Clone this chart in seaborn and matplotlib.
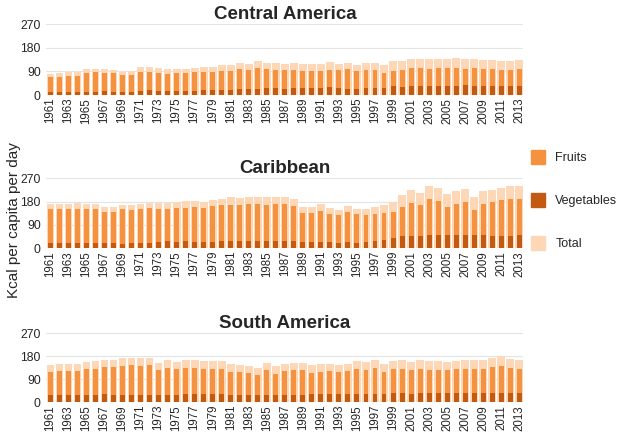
import matplotlib
matplotlib.use("Agg")
import matplotlib.pyplot as plt
from matplotlib.patches import Patch
import seaborn as sns

years = [str(y) for y in range(1961, 2014)]

regions = ["Central America", "Caribbean", "South America"]

central_fruits = [68, 70, 74, 73, 85, 86, 84, 83, 75, 78,
                  89, 88, 85, 82, 84, 85, 86, 88, 86, 91,
                  93, 101, 96, 103, 99, 97, 94, 97, 92, 92,
                  90, 96, 94, 99, 92, 95, 96, 85, 93, 97,
                  103, 103, 101, 103, 102, 104, 101, 102, 99, 98,
                  96, 96, 100]
central_veg = [12, 12, 13, 12, 13, 13, 14, 13, 12, 13,
               16, 18, 17, 17, 15, 15, 16, 18, 19, 21,
               20, 22, 23, 24, 25, 26, 24, 25, 26, 27,
               28, 29, 25, 22, 22, 25, 25, 28, 34, 32,
               35, 35, 36, 35, 36, 36, 37, 36, 34, 34,
               33, 34, 34]
central_total = [82, 84, 87, 86, 98, 99, 98, 97, 88, 92,
                 106, 106, 103, 100, 100, 100, 103, 107, 106, 113,
                 114, 124, 120, 128, 124, 124, 118, 122, 118, 119,
                 118, 125, 119, 122, 115, 121, 122, 114, 128, 130,
                 138, 138, 138, 138, 138, 140, 137, 137, 133, 132,
                 130, 131, 134]

carib_fruits = [152, 151, 152, 153, 151, 151, 139, 140, 150, 147,
                151, 155, 153, 150, 155, 155, 159, 156, 162, 165,
                168, 165, 170, 170, 168, 171, 169, 162, 136, 136,
                145, 132, 129, 140, 130, 128, 132, 135, 138, 160,
                175, 165, 189, 182, 158, 172, 180, 149, 169, 180,
                185, 191, 189]
carib_veg = [20, 19, 20, 21, 20, 21, 21, 19, 16, 18,
             18, 18, 22, 26, 25, 26, 24, 24, 23, 26,
             29, 28, 27, 27, 28, 27, 27, 26, 23, 23,
             24, 22, 20, 22, 21, 25, 26, 30, 40, 46,
             48, 47, 52, 50, 52, 50, 50, 50, 50, 46,
             48, 47, 49]
carib_total = [172, 170, 172, 174, 171, 172, 160, 159, 166, 165,
               169, 173, 175, 176, 180, 181, 183, 180, 185, 191,
               197, 193, 197, 197, 196, 198, 196, 188, 159, 159,
               169, 154, 149, 162, 151, 153, 158, 165, 178, 206,
               223, 212, 241, 232, 210, 222, 230, 199, 219, 226,
               233, 238, 238]

south_fruits = [117, 120, 123, 122, 128, 131, 136, 137, 143, 146,
                143, 146, 124, 134, 129, 134, 135, 129, 130, 130,
                119, 119, 113, 106, 126, 112, 121, 125, 126, 115,
                119, 121, 117, 120, 128, 124, 132, 118, 128, 130,
                125, 130, 127, 126, 124, 128, 128, 130, 130, 138,
                142, 132, 128]
south_veg = [27, 28, 28, 29, 28, 29, 30, 28, 28, 28,
             28, 28, 28, 29, 29, 30, 30, 31, 32, 31,
             29, 28, 28, 29, 29, 29, 29, 29, 29, 30,
             30, 30, 30, 31, 32, 33, 33, 33, 34, 34,
             33, 34, 34, 34, 34, 34, 35, 35, 35, 36,
             37, 37, 37]
south_total = [144, 148, 151, 151, 156, 160, 165, 165, 171, 174,
               171, 174, 152, 163, 158, 164, 165, 160, 162, 161,
               148, 147, 141, 135, 155, 141, 150, 154, 155, 145,
               149, 151, 147, 151, 160, 157, 165, 151, 162, 164,
               158, 164, 161, 160, 158, 162, 163, 165, 165, 174,
               179, 169, 165]

fruits = [central_fruits, carib_fruits, south_fruits]
vegetables = [central_veg, carib_veg, south_veg]
totals = [central_total, carib_total, south_total]

c_total = "#fdd7b6"
c_fruit = "#f5923f"
c_veg = "#c25a12"

sns.set_style("white")
plt.rcParams["font.family"] = ["Liberation Sans", "DejaVu Sans"]

fig = plt.figure(figsize=(6.26, 4.40), dpi=100)

# axes boxes in figure fractions: (bottom, top)
boxes = [(0.784, 0.945), (0.436, 0.595), (0.086, 0.243)]
left, right = 0.074, 0.836

for i, name in enumerate(regions):
    b, t = boxes[i]
    ax = fig.add_axes([left, b, right - left, t - b])
    sns.barplot(x=years, y=totals[i], color=c_total, width=0.86,
                saturation=1, linewidth=0, ax=ax, zorder=2)
    sns.barplot(x=years, y=fruits[i], color=c_fruit, width=0.55,
                saturation=1, linewidth=0, ax=ax, zorder=3)
    sns.barplot(x=years, y=vegetables[i], color=c_veg, width=0.55,
                saturation=1, linewidth=0, ax=ax, zorder=4)
    ax.set_ylim(0, 270)
    ax.set_yticks([0, 90, 180, 270])
    ax.set_xlim(-0.45, 52.45)
    ax.set_xticks(range(0, 53, 2))
    ax.set_xticklabels(years[::2], rotation=90, fontsize=8.3)
    ax.tick_params(axis="y", labelsize=8.7, length=0, pad=4)
    ax.tick_params(axis="x", length=0, pad=2)
    ax.grid(axis="y", color="#e4e4e4", linewidth=0.8, zorder=0)
    ax.set_axisbelow(True)
    sns.despine(ax=ax, left=True, bottom=True)
    ax.set_xlabel("")
    ax.set_ylabel("")
    ax.set_title(name, fontsize=13.5, fontweight="bold", pad=4)

fig.text(0.022, 0.5, "Kcal per capita per day", rotation=90,
         va="center", ha="center", fontsize=11)

handles = [Patch(color=c_fruit, label="Fruits"),
           Patch(color=c_veg, label="Vegetables"),
           Patch(color=c_total, label="Total")]
fig.legend(handles=handles, loc="center left", bbox_to_anchor=(0.830, 0.545),
           frameon=False, fontsize=9, handlelength=1.15, handleheight=1.3,
           labelspacing=2.3, handletextpad=0.8)

fig.savefig("out.png", dpi=100)
